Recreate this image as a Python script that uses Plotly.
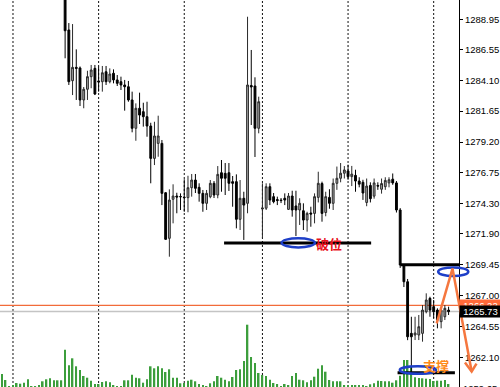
import plotly.graph_objects as go

# ---------------- data ----------------
bar_index = list(range(121))

open_price = [
    1294.6, 1294.2, 1293.8, 1294.0, 1293.9, 1293.6, 1293.9, 1293.7, 1293.1, 1293.2,
    1293.3, 1293.5, 1293.0, 1292.5, 1292.9, 1292.6, 1292.2, 1292.0, 1288.10, 1284.07,
    1285.13, 1285.08, 1282.54, 1283.39, 1284.39, 1285.05, 1284.05, 1283.99, 1284.78, 1283.99,
    1284.66, 1284.13, 1283.99, 1283.73, 1283.59, 1282.54, 1280.29, 1281.88, 1281.61, 1281.21,
    1280.47, 1277.90, 1279.09, 1279.09, 1275.17, 1271.55, 1274.65, 1274.91, 1274.87, 1274.83,
    1274.78, 1275.57, 1276.18, 1275.60, 1275.12, 1274.33, 1274.85, 1275.92, 1274.99, 1276.76,
    1276.71, 1276.76, 1276.05, 1276.05, 1273.06, 1274.73, 1274.33, 1283.69, 1283.65, 1280.29,
    1273.88, 1273.94, 1275.65, 1274.86, 1274.63, 1274.59, 1274.73, 1273.85, 1274.91, 1274.12,
    1273.80, 1273.74, 1273.00, 1273.56, 1273.53, 1274.80, 1275.90, 1273.60, 1274.80, 1274.33,
    1275.92, 1276.32, 1276.72, 1276.90, 1276.45, 1276.55, 1276.10, 1276.00, 1274.40, 1275.75,
    1274.90, 1275.75, 1275.45, 1275.65, 1275.95, 1276.25, 1275.95, 1273.80, 1269.40, 1268.10,
    1264.00, 1263.87, 1263.87, 1264.00, 1265.72, 1266.78, 1266.12, 1265.85, 1264.93, 1265.32,
    1265.85,
]
high_price = [
    1295.4, 1294.9, 1294.3, 1294.6, 1294.5, 1294.1, 1294.4, 1294.2, 1293.4, 1293.6,
    1293.8, 1294.1, 1293.3, 1293.2, 1293.4, 1293.0, 1292.8, 1292.4, 1288.65, 1288.57,
    1286.56, 1285.20, 1283.57, 1284.86, 1285.32, 1285.32, 1285.18, 1285.24, 1285.24, 1285.05,
    1284.97, 1284.52, 1284.39, 1284.13, 1284.05, 1283.20, 1282.27, 1283.12, 1282.32, 1282.40,
    1280.73, 1280.81, 1281.29, 1279.36, 1275.23, 1275.44, 1275.84, 1275.17, 1275.12, 1276.24,
    1276.52, 1276.66, 1276.66, 1275.92, 1275.39, 1275.39, 1276.18, 1276.10, 1277.29, 1277.77,
    1277.53, 1277.53, 1276.50, 1276.63, 1276.18, 1275.25, 1289.15, 1286.51, 1284.34, 1282.80,
    1275.92, 1275.92, 1275.92, 1275.15, 1274.86, 1274.75, 1275.12, 1275.15, 1275.33, 1275.33,
    1274.73, 1274.33, 1273.66, 1274.06, 1275.12, 1276.84, 1276.05, 1275.25, 1275.45, 1276.30,
    1277.25, 1277.53, 1277.29, 1277.40, 1277.30, 1277.00, 1276.40, 1276.20, 1276.30, 1276.00,
    1276.30, 1276.00, 1276.30, 1276.40, 1276.40, 1276.70, 1276.10, 1273.95, 1269.45, 1268.32,
    1265.32, 1265.32, 1265.46, 1266.25, 1267.18, 1266.91, 1266.65, 1265.99, 1266.01, 1266.25,
    1266.12,
]
low_price = [
    1293.9, 1293.5, 1293.4, 1293.6, 1293.3, 1293.2, 1293.5, 1292.9, 1292.9, 1292.9,
    1293.0, 1292.8, 1292.2, 1292.0, 1292.3, 1291.9, 1291.6, 1285.85, 1283.73, 1282.93,
    1282.54, 1282.06, 1281.88, 1282.54, 1283.47, 1282.93, 1283.20, 1283.20, 1283.73, 1283.86,
    1283.86, 1283.65, 1283.33, 1281.69, 1282.40, 1279.97, 1279.30, 1280.63, 1280.42, 1279.62,
    1275.92, 1277.37, 1278.03, 1274.19, 1271.42, 1270.09, 1272.74, 1273.54, 1273.80, 1273.66,
    1273.62, 1274.86, 1275.15, 1274.46, 1273.66, 1273.80, 1274.73, 1274.75, 1274.73, 1275.25,
    1274.99, 1275.31, 1274.06, 1272.34, 1272.21, 1271.42, 1273.54, 1280.55, 1278.01, 1279.89,
    1271.57, 1273.80, 1274.19, 1274.33, 1274.19, 1274.35, 1274.19, 1273.80, 1273.27, 1271.73,
    1272.61, 1272.21, 1272.08, 1272.47, 1272.74, 1274.40, 1272.87, 1273.30, 1273.90, 1273.80,
    1275.40, 1276.00, 1276.30, 1276.20, 1275.70, 1275.25, 1275.60, 1274.60, 1274.10, 1274.40,
    1274.70, 1275.40, 1275.10, 1275.40, 1275.60, 1275.80, 1273.60, 1269.20, 1267.68, 1263.46,
    1260.95, 1263.47, 1263.47, 1263.34, 1265.59, 1265.32, 1265.22, 1264.40, 1264.40, 1265.06,
    1265.46,
]
close_price = [
    1294.2, 1293.8, 1294.0, 1293.9, 1293.6, 1293.9, 1293.7, 1293.1, 1293.2, 1293.3,
    1293.5, 1293.0, 1292.5, 1292.9, 1292.6, 1292.2, 1292.0, 1288.04, 1283.99, 1285.13,
    1285.05, 1282.54, 1283.39, 1284.39, 1284.92, 1283.01, 1283.97, 1284.70, 1283.99, 1284.60,
    1284.13, 1283.86, 1283.73, 1283.59, 1282.54, 1280.29, 1281.88, 1281.34, 1281.21, 1280.47,
    1277.90, 1279.68, 1279.68, 1275.12, 1271.47, 1274.59, 1274.91, 1274.83, 1274.85, 1274.79,
    1275.57, 1276.18, 1275.52, 1275.12, 1274.33, 1275.12, 1275.92, 1274.99, 1276.63, 1276.32,
    1276.32, 1275.92, 1275.92, 1273.06, 1274.73, 1274.19, 1283.73, 1283.57, 1280.29, 1282.40,
    1273.96, 1275.65, 1274.59, 1274.46, 1274.55, 1274.55, 1274.59, 1274.91, 1273.80, 1273.80,
    1274.33, 1273.00, 1273.53, 1273.48, 1274.86, 1275.92, 1273.53, 1274.86, 1274.33, 1275.92,
    1276.32, 1276.72, 1276.98, 1276.45, 1276.65, 1276.10, 1275.85, 1275.15, 1275.70, 1274.70,
    1275.95, 1275.70, 1275.90, 1276.15, 1276.20, 1275.95, 1273.80, 1269.43, 1268.10, 1263.73,
    1263.73, 1264.03, 1264.53, 1265.85, 1266.65, 1265.85, 1265.72, 1265.06, 1265.85, 1265.99,
    1265.73,
]
tick_volume = [
    130, 70, 10, 20, 40, 33, 43, 77, 5, 10, 20, 57, 77, 87, 67, 67, 67,
    373, 217, 287, 207, 170, 110, 93, 63, 30, 30,
    50, 57, 47, 20, 10, 10, 67, 67, 123, 93,
    87, 43, 77, 207, 187, 207, 187, 150, 177, 93,
    93, 37, 40, 63, 73, 57, 30, 17, 10, 37,
    57, 110, 93, 73, 57, 100, 170, 177, 260, 623,
    300, 240, 140, 120, 110, 73, 40, 30, 5, 30,
    17, 110, 140, 73, 67, 47, 67, 103, 183, 217,
    153, 70, 57, 57, 57, 17, 15, 17, 17, 17,
    17, 5, 27, 37, 63, 60, 57, 57, 43, 67,
    113, 270, 270, 203, 97, 90, 87, 83, 80, 60,
    63, 63, 70, 30,
]
tick_prices = [1288.95, 1286.55, 1284.10, 1281.65, 1279.20, 1276.75,
               1274.30, 1271.90, 1269.45, 1267.00, 1264.55, 1262.10]
bottom_tick = 1259.65
ask_price = 1266.22
bid_price = 1265.73
grid_bars = [3, 26, 49, 70, 93, 116]
breakdown_level = 1271.18
resistance_level = 1269.45
support_level = 1260.87

X_RANGE = [-0.49, 122.8]
Y_RANGE = [1259.74, 1290.48]
VOL_RANGE = [0, 3870]


def xp(b):
    return (b - X_RANGE[0]) / (X_RANGE[1] - X_RANGE[0])


def yp(p):
    return (p - Y_RANGE[0]) / (Y_RANGE[1] - Y_RANGE[0])


fig = go.Figure()

fig.add_trace(go.Bar(
    x=bar_index, y=tick_volume, yaxis="y", width=0.42,
    marker=dict(color="#3c9e3c", line=dict(width=0)),
    hoverinfo="skip", showlegend=False,
))

fig.add_trace(go.Candlestick(
    x=bar_index, open=open_price, high=high_price, low=low_price, close=close_price,
    yaxis="y2", whiskerwidth=0,
    increasing=dict(line=dict(color="#2a2a2a", width=1), fillcolor="#a6a6a6"),
    decreasing=dict(line=dict(color="#000000", width=1), fillcolor="#000000"),
    hoverinfo="skip", showlegend=False,
))

shapes = []
for g in grid_bars:
    shapes.append(dict(type="line", xref="x", yref="paper", x0=g, x1=g, y0=0, y1=1,
                       line=dict(color="#111111", width=1, dash="2px,2px"), layer="below"))

# ask / bid lines
shapes.append(dict(type="line", xref="paper", yref="y2", x0=0, x1=1, y0=bid_price, y1=bid_price,
                   line=dict(color="#c4c4c4", width=1.5), layer="below"))
shapes.append(dict(type="line", xref="paper", yref="y2", x0=0, x1=1, y0=ask_price, y1=ask_price,
                   line=dict(color="#f26b3a", width=1.2), layer="below"))

# black horizontal drawn lines
shapes.append(dict(type="line", xref="x", yref="y2", x0=59.7, x1=99.2,
                   y0=breakdown_level, y1=breakdown_level, line=dict(color="black", width=3)))
shapes.append(dict(type="line", xref="x", yref="y2", x0=107.1, x1=X_RANGE[1],
                   y0=resistance_level, y1=resistance_level, line=dict(color="black", width=3)))
shapes.append(dict(type="line", xref="x", yref="y2", x0=106.3, x1=121.7,
                   y0=support_level, y1=support_level, line=dict(color="black", width=3)))

BLUE = "#1e3fc8"
shapes.append(dict(type="circle", xref="x", yref="y2", x0=75.15, x1=84.1,
                   y0=1270.83, y1=1271.55, line=dict(color=BLUE, width=2.5)))
shapes.append(dict(type="circle", xref="x", yref="y2", x0=106.9, x1=116.6,
                   y0=1260.79, y1=1261.38, line=dict(color=BLUE, width=2.5)))
shapes.append(dict(type="circle", xref="paper", yref="paper", x0=xp(117.2), x1=xp(125.3),
                   y0=yp(1268.55), y1=yp(1269.24), line=dict(color=BLUE, width=2.5)))

# orange arrow
ORANGE = "#f5773f"
pts = [(116.8, 1264.80), (121.05, 1269.15), (126.2, 1260.97)]
path = "M " + " L ".join(f"{xp(a):.5f},{yp(b):.5f}" for a, b in pts)
shapes.append(dict(type="path", xref="paper", yref="paper", path=path,
                   line=dict(color=ORANGE, width=2.5)))
head = [(124.4, 1261.68), (126.2, 1260.97), (127.5, 1261.60)]
path2 = "M " + " L ".join(f"{xp(a):.5f},{yp(b):.5f}" for a, b in head)
shapes.append(dict(type="path", xref="paper", yref="paper", path=path2,
                   line=dict(color=ORANGE, width=2.5)))

AXFONT = dict(family="Liberation Sans, Arial, sans-serif", size=9.5, color="black")

annotations = [
    dict(text="<b>破位</b>", x=87.9, y=1271.15, xref="x", yref="y2", showarrow=False,
         font=dict(family="Noto Sans CJK SC", size=13, color="#e8101a")),
    dict(text="<b>支撑</b>", x=116.6, y=1261.48, xref="x", yref="y2", showarrow=False,
         font=dict(family="Noto Sans CJK SC", size=13, color="#ff8a1a")),
    dict(text=f"{ask_price:.2f}", x=1, y=ask_price, xref="paper", yref="y2", xanchor="left",
         showarrow=False, bgcolor="#ff6a3a", width=41, height=10, borderpad=0,
         font=dict(family=AXFONT["family"], size=9.5, color="white")),
    dict(text=f"{bid_price:.2f}", x=1, y=bid_price, xref="paper", yref="y2", xanchor="left",
         showarrow=False, bgcolor="black", width=41, height=11, borderpad=0,
         font=dict(family=AXFONT["family"], size=9.5, color="white")),
    dict(text=f"{bottom_tick:.2f}", x=1, y=yp(bottom_tick), xref="paper", yref="paper",
         xanchor="left", yanchor="middle", xshift=2, showarrow=False, font=AXFONT),
]

fig.update_layout(
    width=500, height=387,
    margin=dict(l=0, r=41, t=0, b=0),
    paper_bgcolor="white", plot_bgcolor="white",
    showlegend=False,
    xaxis=dict(range=X_RANGE, visible=False, rangeslider=dict(visible=False), showgrid=False),
    yaxis=dict(range=VOL_RANGE, visible=False, showgrid=False, fixedrange=True),
    yaxis2=dict(range=Y_RANGE, overlaying="y", side="right", showgrid=False, zeroline=False,
                tickvals=tick_prices, ticktext=[f"{v:.2f}" for v in tick_prices],
                ticks="outside", ticklen=3, tickcolor="black", showline=True,
                linecolor="black", linewidth=1, tickfont=AXFONT),
    shapes=shapes,
    annotations=annotations,
)

fig.write_html("out.html")
